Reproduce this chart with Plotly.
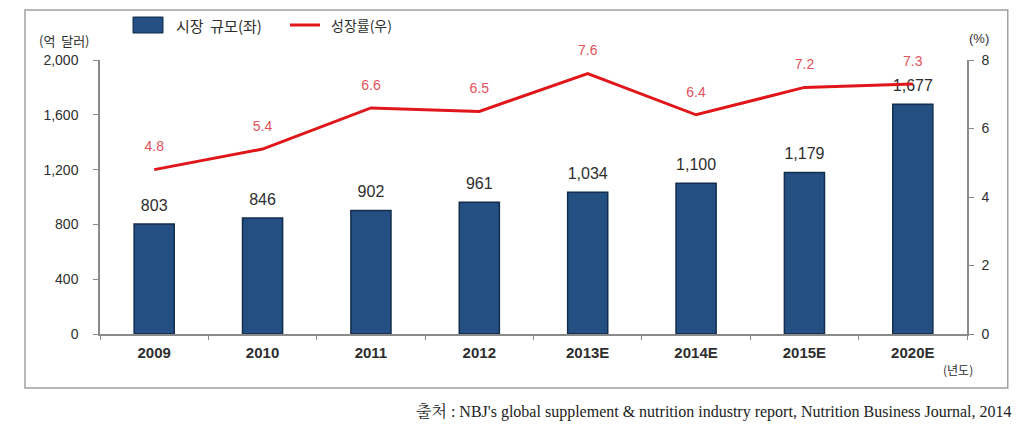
import plotly.graph_objects as go

years = ["2009", "2010", "2011", "2012", "2013E", "2014E", "2015E", "2020E"]
market_size = [803, 846, 902, 961, 1034, 1100, 1179, 1677]
growth_rate = [4.8, 5.4, 6.6, 6.5, 7.6, 6.4, 7.2, 7.3]
left_ticks = [0, 400, 800, 1200, 1600, 2000]
right_ticks = [0, 2, 4, 6, 8]

FONT = "Liberation Sans, Arial, Noto Sans CJK KR"
KFONT = "Noto Sans CJK KR, Liberation Sans"
TXT = "#2e2e2e"

fig = go.Figure()
fig.add_trace(go.Bar(
    x=years, y=market_size, name="시장 규모(좌)",
    marker=dict(color="#234f82", line=dict(color="#132d4d", width=1.5)),
    width=0.37, hoverinfo="x+y",
))
fig.add_trace(go.Scatter(
    x=years, y=market_size, mode="markers+text",
    marker=dict(size=13, opacity=0), texttemplate="%{y:,}",
    textposition="top center", cliponaxis=False, hoverinfo="skip",
    textfont=dict(family=FONT, size=16, color=TXT),
))
fig.add_trace(go.Scatter(
    x=years, y=growth_rate, name="성장률(우)", yaxis="y2",
    mode="lines", line=dict(color="#e0161b", width=3),
))
fig.add_trace(go.Scatter(
    x=years, y=growth_rate, yaxis="y2", mode="markers+text",
    marker=dict(size=22, opacity=0), text=[f"{g}" for g in growth_rate],
    textposition="top center", cliponaxis=False, hoverinfo="skip",
    textfont=dict(family=FONT, size=14, color="#e0515a"),
))

fig.update_layout(
    width=1012, height=424,
    margin=dict(l=92, r=53, t=52, b=98),
    paper_bgcolor="white", plot_bgcolor="white",
    showlegend=False,
    xaxis=dict(type="category", range=[-0.5, len(years) - 0.5],
               showline=True, linecolor="#8a8a8a", linewidth=1.5,
               ticks="outside", tickson="boundaries", ticklen=4, tickcolor="#8a8a8a",
               ticklabelstandoff=4,
               tickfont=dict(family=FONT, size=15, color=TXT, weight="bold"), showgrid=False),
    yaxis=dict(range=[0, 2000], tickvals=left_ticks, tickformat=",", showgrid=False,
               showline=True, linecolor="#8a8a8a", linewidth=1.5, ticks="outside",
               ticklen=5, tickcolor="#8a8a8a", zeroline=False, ticklabelstandoff=12,
               tickfont=dict(family=FONT, size=14, color=TXT)),
    yaxis2=dict(range=[0, 8], tickvals=right_ticks, overlaying="y", side="right",
                showgrid=False, showline=True, linecolor="#8a8a8a", linewidth=1.5,
                ticks="outside", ticklen=5, tickcolor="#8a8a8a", zeroline=False,
                ticklabelstandoff=5,
                tickfont=dict(family=FONT, size=14, color=TXT)),
)

# outer frame
fig.add_shape(type="rect", xref="paper", yref="paper", x0=-0.0865, x1=1.047,
              y0=-0.197, y1=1.1825, line=dict(color="#a0a0a0", width=1.5))

def px(x):
    return (x - 100) / 867

def py(y):
    return (334 - y) / 274

# legend (manual)
fig.add_shape(type="rect", xref="paper", yref="paper", x0=px(133), x1=px(163),
              y0=py(33), y1=py(17), fillcolor="#234f82",
              line=dict(color="#132d4d", width=1))
fig.add_annotation(xref="paper", yref="paper", x=px(174), y=py(25),
                   text="시장&nbsp;&nbsp;규모(좌)", showarrow=False, xanchor="left", yanchor="middle",
                   font=dict(family=KFONT, size=15, color=TXT))
fig.add_shape(type="line", xref="paper", yref="paper", x0=px(290), x1=px(320),
              y0=py(25), y1=py(25), line=dict(color="#e0161b", width=3))
fig.add_annotation(xref="paper", yref="paper", x=px(329), y=py(25),
                   text="성장률(우)", showarrow=False, xanchor="left", yanchor="middle",
                   font=dict(family=KFONT, size=14, color=TXT))

# axis titles
fig.add_annotation(xref="paper", yref="paper", x=px(64), y=py(40),
                   text="(억&nbsp;&nbsp;달러)", showarrow=False, xanchor="center", yanchor="middle",
                   font=dict(family=KFONT, size=13, color=TXT))
fig.add_annotation(xref="paper", yref="paper", x=px(979), y=py(39),
                   text="(%)", showarrow=False, xanchor="center", yanchor="middle",
                   font=dict(family=FONT, size=13, color=TXT))
fig.add_annotation(xref="paper", yref="paper", x=px(958), y=py(369),
                   text="(년도)", showarrow=False, xanchor="center", yanchor="middle",
                   font=dict(family=KFONT, size=12, color=TXT))

# source
fig.add_annotation(xref="paper", yref="paper", x=px(1014), y=py(411),
                   text="출처 : NBJ's global supplement & nutrition industry report, Nutrition Business Journal, 2014",
                   showarrow=False, xanchor="right", yanchor="middle",
                   font=dict(family="Liberation Serif, Noto Serif CJK KR, Noto Sans CJK KR", size=16, color="#222222"))

fig.write_html("out.html")
